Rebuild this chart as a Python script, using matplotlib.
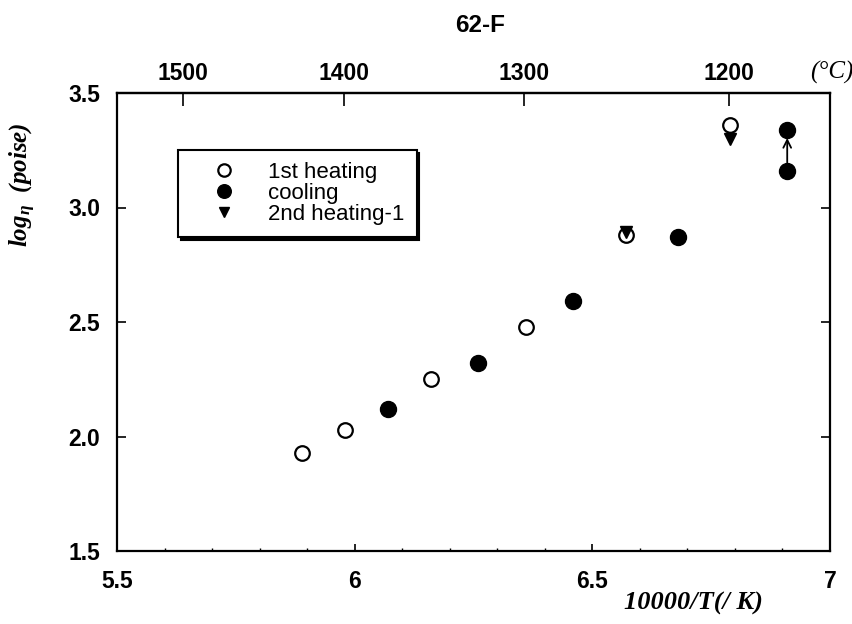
import matplotlib
matplotlib.use('Agg')
import matplotlib.pyplot as plt

# mathtext in the same bold italic serif as the axis labels
plt.rcParams['mathtext.fontset'] = 'custom'
plt.rcParams['mathtext.rm'] = 'Liberation Serif:bold:italic'
plt.rcParams['mathtext.it'] = 'Liberation Serif:bold:italic'
plt.rcParams['mathtext.bf'] = 'Liberation Serif:bold:italic'

# 10000/T values and log viscosity
heat1_x = [5.89, 5.98, 6.16, 6.36, 6.57, 6.79]
heat1_y = [1.93, 2.03, 2.25, 2.48, 2.88, 3.36]

cool_x = [6.07, 6.26, 6.46, 6.68, 6.91, 6.91]
cool_y = [2.12, 2.32, 2.59, 2.87, 3.34, 3.16]

heat2_x = [6.57, 6.79]
heat2_y = [2.895, 3.30]

# arrow between the two cooling points at the lowest temperature
arrow_start = (cool_x[5], cool_y[5])
arrow_end = (cool_x[4], cool_y[4])

celsius_ticks = [1500, 1400, 1300, 1200]
y_ticks = [1.5, 2.0, 2.5, 3.0, 3.5]
x_ticks = [5.5, 6.0, 6.5, 7.0]
x_labels = ['5.5', '6', '6.5', '7']

W, H = 853, 624
fig = plt.figure(figsize=(W / 100, H / 100), dpi=100)
ax = fig.add_axes([117 / W, 73 / H, 713 / W, 458 / H])

tick_font = dict(family='Liberation Sans', weight='bold', size=16.5)

ax.plot(heat1_x, heat1_y, 'o', ls='none', mfc='white', mec='black', mew=1.6,
        ms=10.5, label='1st heating', zorder=3)
ax.plot(cool_x, cool_y, 'o', ls='none', mfc='black', mec='black',
        ms=11.5, label='cooling', zorder=3)
ax.plot(heat2_x, heat2_y, 'v', ls='none', mfc='black', mec='black',
        ms=8.5, label='2nd heating-1', zorder=4)

ax.annotate('', xy=arrow_end, xytext=arrow_start,
            arrowprops=dict(arrowstyle='->', color='black', lw=1.3,
                            shrinkA=6, shrinkB=6, mutation_scale=14))

ax.set_xlim(5.5, 7.0)
ax.set_ylim(1.5, 3.5)
ax.set_xticks(x_ticks)
ax.set_xticklabels(x_labels, fontdict=tick_font)
ax.set_xticks([5.5 + 0.1 * i for i in range(16)], minor=True)
ax.set_yticks(y_ticks)
ax.set_yticklabels(['%.1f' % v for v in y_ticks], fontdict=tick_font)

ax.tick_params(axis='x', which='major', direction='in', length=5, width=1.2,
               top=False, pad=14)
ax.tick_params(axis='x', which='minor', direction='in', length=2.5, width=1,
               top=False)
ax.tick_params(axis='y', which='major', direction='in', length=6.5, width=1.2,
               right=True, pad=12)
for s in ax.spines.values():
    s.set_linewidth(1.6)

# top axis in Celsius
sec = ax.secondary_xaxis('top', functions=(lambda x: 10000 / x - 273.15,
                                           lambda c: 10000 / (c + 273.15)))
sec.set_xticks(celsius_ticks)
sec.set_xticklabels([str(c) for c in celsius_ticks], fontdict=tick_font)
sec.tick_params(direction='in', length=9, width=1.2, pad=6)
sec.spines['top'].set_linewidth(1.6)

fig.text(480 / W, 1 - 25 / H, '62-F', ha='center', va='center',
         family='Liberation Sans', weight='bold', size=17.5)
fig.text(810 / W, 1 - 72 / H, '(°C)', ha='left', va='center',
         family='Liberation Serif', style='italic', size=18)
fig.text(693 / W, 1 - 603 / H, '10000/T(/ K)', ha='center', va='center',
         family='Liberation Serif', style='italic', weight='bold', size=19)
fig.text(23 / W, 1 - 185 / H, r'log$_{\eta}$  (poise)', ha='center', va='center',
         rotation=90, family='Liberation Serif', style='italic', weight='bold',
         size=18)

leg = ax.legend(loc='upper left', bbox_to_anchor=(0.0856, 0.8755),
                borderaxespad=0, frameon=True, fancybox=False,
                shadow={'color': 'black', 'alpha': 1},
                prop=dict(family='Liberation Sans', size=16),
                handlelength=3.0, handletextpad=0.5, labelspacing=0.0,
                borderpad=0.55, markerscale=0.85)
leg.get_frame().set_edgecolor('black')
leg.get_frame().set_linewidth(1.5)

fig.savefig('out.png', dpi=100)
